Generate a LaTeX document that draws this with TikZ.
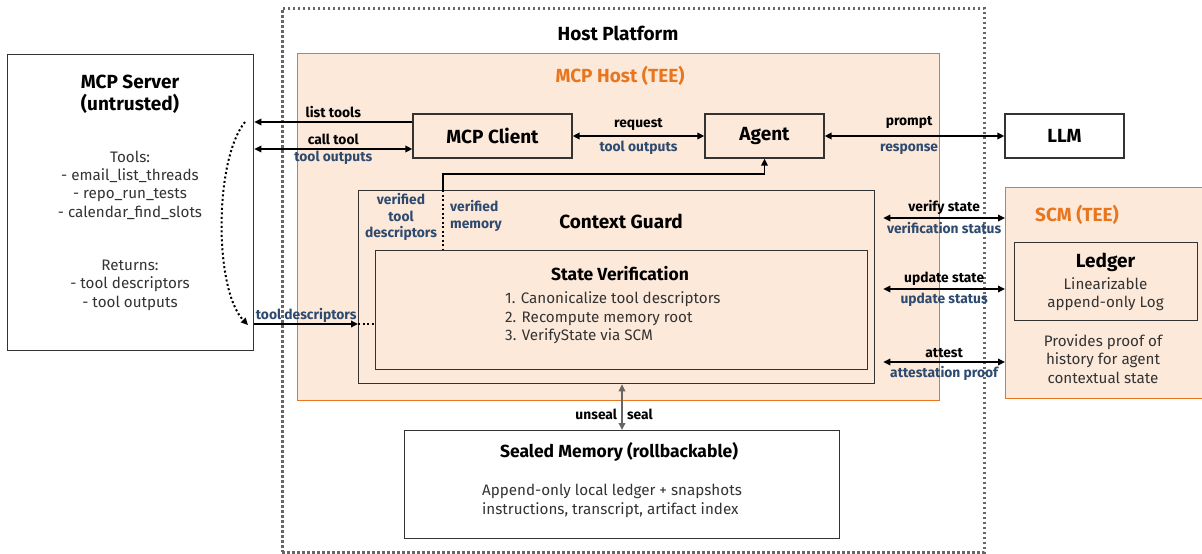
\documentclass[tikz,border=0pt]{standalone}
\usepackage{fontspec}
\setmainfont{Fira Sans}
\usetikzlibrary{arrows.meta, calc, positioning}

\definecolor{teeorange}{HTML}{E8761E}
\definecolor{teefill}{HTML}{FDE9DA}
\definecolor{labelblue}{HTML}{2E4A6E}
\definecolor{boxgray}{HTML}{333333}
\definecolor{dotgray}{HTML}{666666}

\begin{document}
\begin{tikzpicture}
                [x=1pt, y=-1pt,
                block/.style={
                    draw=boxgray,
                    line width=1.3pt,
                    font=\fontsize{19}{22}\selectfont\bfseries,
                    align=center,
                    inner sep=0pt
                },
                plain/.style={block, fill=white},
                tee/.style={block, fill=teefill},
                teebox/.style={draw=teeorange, line width=1.3pt, fill=teefill, inner sep=0pt},
                title/.style={font=\fontsize{19}{22}\selectfont\bfseries, align=center, inner sep=0pt},
                subtitle/.style={title, font=\fontsize{17.5}{20}\selectfont\bfseries},
                body/.style={font=\fontsize{15.2}{18.4}\selectfont, text=boxgray, align=center, inner sep=0pt},
                lbl/.style={font=\fontsize{13.8}{16}\selectfont\bfseries, inner sep=4pt},
                ret/.style={lbl, text=labelblue},
                line/.style={
                    draw, line width=1.7pt, -{Triangle[length=7pt,width=6.5pt]}
                },
                dline/.style={
                    draw, line width=1.7pt, {Triangle[length=7pt,width=6.5pt]}-{Triangle[length=7pt,width=6.5pt]}
                },
                dotline/.style={
                    draw, line width=2pt, dash pattern=on 2pt off 2.5pt
                }
                ]
                \useasboundingbox (0,0) rectangle (1202,554);

                % Host platform and the TEE
                \node[draw=dotgray, line width=2.5pt, dash pattern=on 2.5pt off 2.5pt, inner sep=0pt,
                    anchor=north west, minimum width=702pt, minimum height=544pt] (platform) at (281,7) {};
                \node[title] (platformtitle) at (618,33) {Host Platform};
                \node[teebox, anchor=north west, minimum width=642pt, minimum height=347pt] (host) at (297,53) {};
                \node[title, text=teeorange] (hosttitle) at (620,76) {MCP Host (TEE)};

                % MCP server
                \node[plain, anchor=north west, minimum width=246pt, minimum height=296pt] (server) at (7,54) {};
                \node[title, text=black] (servertitle) at (130,94) {MCP Server\\(untrusted)};
                \node[body] (servertools) at (130,185) {Tools:\\- email\_list\_threads\\- repo\_run\_tests\\- calendar\_find\_slots};
                \node[body] (serverreturns) at (130,285) {Returns:\\- tool descriptors\\- tool outputs};

                % Client, agent and model
                \node[tee, minimum width=159pt, minimum height=44pt] (client) at (492.5,136) {MCP Client};
                \node[tee, minimum width=119pt, minimum height=44pt] (agent) at (764.5,136) {Agent};
                \node[plain, minimum width=119pt, minimum height=44pt] (llm) at (1064.5,136) {LLM};

                % Context guard
                \node[tee, anchor=north west, minimum width=516pt, minimum height=193pt] (guard) at (358,190) {};
                \node[title] (guardtitle) at (621,221) {Context Guard};
                \node[tee, anchor=north west, minimum width=492pt, minimum height=119pt] (statever) at (375,250) {};
                \node[subtitle] (statetitle) at (620,274) {State Verification};
                \node[body, align=left, anchor=west] (statesteps) at (505,318) {1. Canonicalize tool descriptors\\2. Recompute memory root\\3. VerifyState via SCM};

                % SCM
                \node[teebox, anchor=north west, minimum width=202pt, minimum height=211pt] (scm) at (1005,187) {};
                \node[title, text=teeorange] (scmtitle) at (1077,215) {SCM (TEE)};
                \node[tee, anchor=north west, minimum width=183pt, minimum height=78pt] (ledger) at (1014,242) {};
                \node[title] (ledgertitle) at (1105.5,262) {Ledger};
                \node[body] (ledgertext) at (1105.5,294) {Linearizable\\append-only Log};
                \node[body] (scmtext) at (1103,359) {Provides proof of\\history for agent\\contextual state};

                % Sealed memory
                \node[plain, anchor=north west, minimum width=435pt, minimum height=108pt] (sealed) at (404,430) {};
                \node[subtitle] (sealedtitle) at (619,452) {Sealed Memory (rollbackable)};
                \node[body, align=left] (sealedtext) at (612,501) {Append-only local ledger + snapshots\\instructions, transcript, artifact index};

                % Server <-> client
                \path [line] (client.west |- 0,122) -- node[lbl, above, inner sep=3pt] {list tools} (server.east |- 0,122);
                \path [dline] (server.east |- 0,149) -- node[lbl, above, inner sep=3pt] {call tool} node[ret, below, inner sep=1pt] {tool outputs} (client.west |- 0,149);
                \path [line] (server.east |- 0,324) -- node[ret, above, inner sep=1pt] {tool descriptors} (guard.west |- 0,324);
                \path [dotline] (guard.west |- 0,324) -- (statever.west |- 0,324);

                % Returns loop on the server side
                \coordinate (loopstart) at (245,122);
                \coordinate (loopend) at (248,325);
                \draw [dotline, -{Triangle[length=7pt,width=6.5pt]}] (loopstart) .. controls (214,160) and (214,290) .. (loopend);

                % Client <-> agent <-> model
                \path [dline] (client) -- node[lbl, above, inner sep=5pt] {request} node[ret, below] {tool outputs} (agent);
                \path [dline] (agent) -- node[lbl, above, pos=0.47, inner sep=7pt] {prompt} node[ret, below, pos=0.47, inner sep=7pt] {response} (llm);

                % Verified context to the agent
                \coordinate (split) at (443,190);
                \path [line] (split) -- ++(0,-16) -| (agent.south);
                \path [dotline] (split) -- (split |- statever.north);
                \node[ret, align=center, font=\fontsize{13.8}{16.8}\selectfont\bfseries] (verdesc) at (401,217) {verified\\tool\\descriptors};
                \node[ret, align=left, font=\fontsize{13.8}{16.8}\selectfont\bfseries] (vermem) at (476,216) {verified\\memory};

                % Guard <-> SCM
                \foreach \ask/\answer/\ypos in {verify state/verification status/218, update state/update status/289, attest/attestation proof/362}{
                    \path [dline] (guard.east |- 0,\ypos) ++(8,0) -- node[lbl, above, inner sep=3pt] {\ask} node[ret, below, inner sep=3pt] {\answer} (scm.west |- 0,\ypos);
                }

                % Guard <-> sealed memory
                \path [dline, draw=dotgray, line width=2pt] (guard.south -| 622,0) -- node[lbl, left, pos=0.65] {unseal} node[lbl, right, pos=0.65] {seal} (sealed.north -| 622,0);
            \end{tikzpicture}
\end{document}
